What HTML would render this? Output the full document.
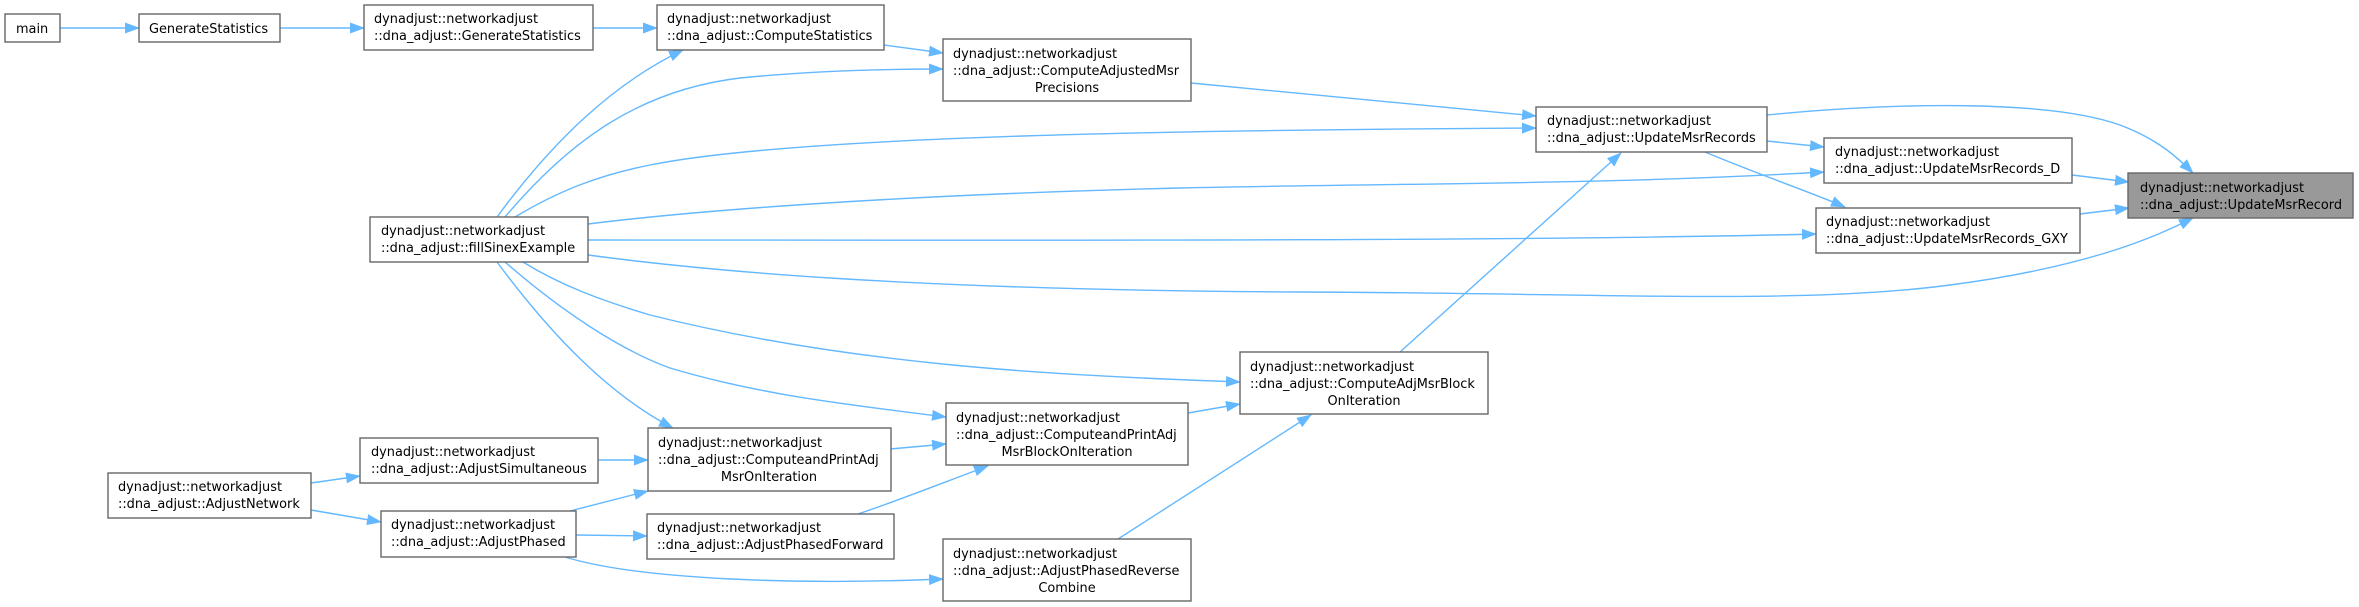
<!DOCTYPE html>
<html><head><meta charset="utf-8"><style>
html,body{margin:0;padding:0;background:#fff;}
svg{display:block;}
text{font-family:"DejaVu Sans","Liberation Sans",sans-serif;font-size:12.9px;fill:#000;}
.b{fill:#fff;stroke:#666;stroke-width:1.4;}
.e{fill:none;stroke:#63b8ff;stroke-width:1.4;}
</style></head><body>
<svg width="2359" height="607" viewBox="0 0 2359 607" xmlns="http://www.w3.org/2000/svg">
<defs>
<marker id="a" markerWidth="15" markerHeight="11" refX="14" refY="5.5" orient="auto" markerUnits="userSpaceOnUse">
<path d="M0,0 L15,5.5 L0,11 Z" fill="#63b8ff"/>
</marker>
</defs>

<!-- edges -->
<g class="e" marker-end="url(#a)">
<path d="M60,28 L139,28"/>
<path d="M280,28 L364,28"/>
<path d="M593,28 L657,28"/>
<path d="M884,45 L943,53"/>
<path d="M497,217 C550,145 610,85 683,50"/>
<path d="M505,217 C570,140 640,90 740,78 C820,70 900,69 943,69"/>
<path d="M515,217 C560,190 600,175 650,165 C800,135 1200,130 1536,128"/>
<path d="M588,224 C700,210 900,195 1179,188 C1400,183 1600,185 1824,172"/>
<path d="M588,240 C900,240 1500,242 1816,234"/>
<path d="M588,255 C700,270 900,290 1300,292 C1600,293 1800,305 1950,285 C2080,268 2150,240 2193,218"/>
<path d="M1191,83 L1536,116"/>
<path d="M1767,115 C1900,102 2050,100 2120,125 C2160,140 2180,160 2193,173"/>
<path d="M1767,141 L1824,147"/>
<path d="M1705,152 C1760,175 1810,192 1845,207"/>
<path d="M2072,175 L2129,182"/>
<path d="M2080,214 L2129,208"/>
<path d="M1400,352 L1621,153"/>
<path d="M523,262 C560,285 600,300 650,315 C850,365 1050,375 1240,382"/>
<path d="M505,262 C560,310 620,350 670,368 C760,395 850,405 946,417"/>
<path d="M497,262 C540,320 600,390 673,428"/>
<path d="M1188,413 L1240,404"/>
<path d="M890,449 L946,444"/>
<path d="M598,460 L648,460"/>
<path d="M311,483 L360,476"/>
<path d="M311,510 L381,522"/>
<path d="M570,511 L648,491"/>
<path d="M576,535 L647,536"/>
<path d="M858,514 C900,500 950,480 988,466"/>
<path d="M565,557 C640,580 800,585 943,579"/>
<path d="M1118,539 L1311,415"/>
</g>

<!-- nodes -->
<rect class="b" x="5" y="14" width="55" height="28"/>
<text x="16" y="33">main</text>

<rect class="b" x="139" y="14" width="141" height="28"/>
<text x="149" y="33">GenerateStatistics</text>

<rect class="b" x="364" y="5" width="229" height="45"/>
<text x="374" y="23">dynadjust::networkadjust</text>
<text x="374" y="40">::dna_adjust::GenerateStatistics</text>

<rect class="b" x="657" y="5" width="227" height="45"/>
<text x="667" y="23">dynadjust::networkadjust</text>
<text x="667" y="40">::dna_adjust::ComputeStatistics</text>

<rect class="b" x="370" y="217" width="218" height="45"/>
<text x="381" y="235">dynadjust::networkadjust</text>
<text x="381" y="252">::dna_adjust::fillSinexExample</text>

<rect class="b" x="943" y="39" width="248" height="62"/>
<text x="953" y="58">dynadjust::networkadjust</text>
<text x="953" y="75">::dna_adjust::ComputeAdjustedMsr</text>
<text x="1067" y="92" text-anchor="middle">Precisions</text>

<rect class="b" x="1536" y="107" width="231" height="45"/>
<text x="1547" y="125">dynadjust::networkadjust</text>
<text x="1547" y="142">::dna_adjust::UpdateMsrRecords</text>

<rect class="b" x="1824" y="138" width="248" height="45"/>
<text x="1835" y="156">dynadjust::networkadjust</text>
<text x="1835" y="173">::dna_adjust::UpdateMsrRecords_D</text>

<rect class="b" x="1816" y="208" width="264" height="45"/>
<text x="1826" y="226">dynadjust::networkadjust</text>
<text x="1826" y="243">::dna_adjust::UpdateMsrRecords_GXY</text>

<rect x="2128" y="173" width="225" height="45" fill="#999" stroke="#666" stroke-width="1.4"/>
<text x="2140" y="192">dynadjust::networkadjust</text>
<text x="2140" y="209">::dna_adjust::UpdateMsrRecord</text>

<rect class="b" x="1240" y="352" width="248" height="62"/>
<text x="1250" y="371">dynadjust::networkadjust</text>
<text x="1250" y="388">::dna_adjust::ComputeAdjMsrBlock</text>
<text x="1364" y="405" text-anchor="middle">OnIteration</text>

<rect class="b" x="946" y="403" width="242" height="62"/>
<text x="956" y="422">dynadjust::networkadjust</text>
<text x="956" y="439">::dna_adjust::ComputeandPrintAdj</text>
<text x="1067" y="456" text-anchor="middle">MsrBlockOnIteration</text>

<rect class="b" x="648" y="428" width="243" height="63"/>
<text x="658" y="447">dynadjust::networkadjust</text>
<text x="658" y="464">::dna_adjust::ComputeandPrintAdj</text>
<text x="769" y="481" text-anchor="middle">MsrOnIteration</text>

<rect class="b" x="360" y="438" width="238" height="45"/>
<text x="371" y="456">dynadjust::networkadjust</text>
<text x="371" y="473">::dna_adjust::AdjustSimultaneous</text>

<rect class="b" x="108" y="473" width="203" height="45"/>
<text x="118" y="491">dynadjust::networkadjust</text>
<text x="118" y="508">::dna_adjust::AdjustNetwork</text>

<rect class="b" x="381" y="511" width="195" height="46"/>
<text x="391" y="529">dynadjust::networkadjust</text>
<text x="391" y="546">::dna_adjust::AdjustPhased</text>

<rect class="b" x="647" y="514" width="247" height="45"/>
<text x="657" y="532">dynadjust::networkadjust</text>
<text x="657" y="549">::dna_adjust::AdjustPhasedForward</text>

<rect class="b" x="943" y="539" width="248" height="62"/>
<text x="953" y="558">dynadjust::networkadjust</text>
<text x="953" y="575">::dna_adjust::AdjustPhasedReverse</text>
<text x="1067" y="592" text-anchor="middle">Combine</text>
</svg>
</body></html>
